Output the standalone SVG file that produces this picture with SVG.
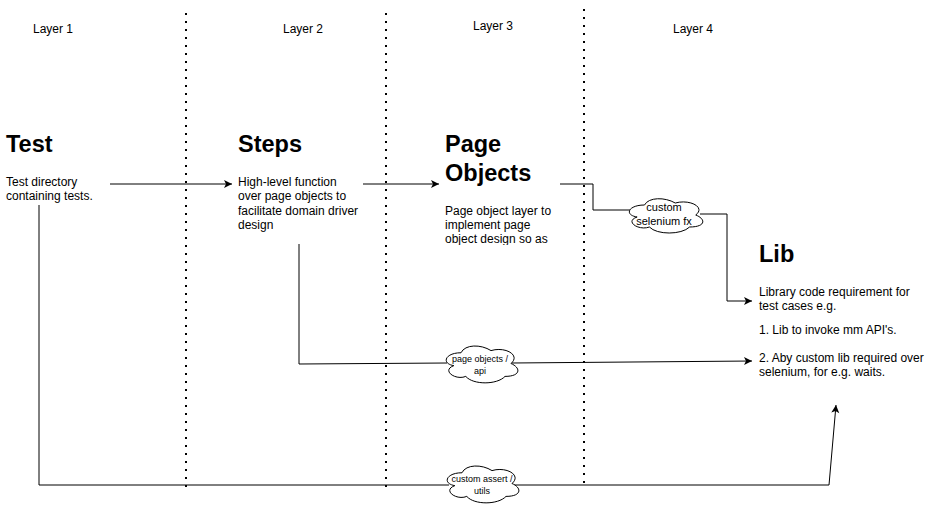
<svg xmlns="http://www.w3.org/2000/svg" xmlns:xlink="http://www.w3.org/1999/xlink" width="934" height="505" viewBox="0 0 934 505">
<style>
  text { font-family: "Liberation Sans", Arial, sans-serif; fill: #000; }
  .layer { font-size: 12px; }
  .title { font-size: 23.5px; font-weight: bold; }
  .body { font-size: 12px; }
  .c10 { font-size: 11px; }
  .c9 { font-size: 9px; }
  .div { stroke: #000; stroke-width: 2; stroke-dasharray: 2 6; fill: none; }
  .edge { stroke: #000; stroke-width: 1; fill: none; }
  .cloud { fill: #fff; stroke: #000; stroke-width: 1; }
</style>
<defs>
  <marker id="arr" viewBox="0 0 10 10" refX="9" refY="5" markerWidth="10" markerHeight="10" markerUnits="userSpaceOnUse" orient="auto">
    <path d="M1,1 L9,5 L1,9 L3,5 Z" fill="#000"/>
  </marker>
  <path id="cloudShape" vector-effect="non-scaling-stroke" d="M25,25 C5,25 0,50 16,55 C0,66 18,90 31,80 C40,100 70,100 80,80 C100,80 100,60 87.5,50 C100,30 80,10 62.5,20 C50,5 30,5 25,25 Z"/>
  <clipPath id="poClip"><rect x="440" y="200" width="130" height="45"/></clipPath>
</defs>
<rect width="934" height="505" fill="#fff"/>

<g id="dividers">
  <line class="div" x1="186" y1="13" x2="186" y2="488"/>
  <line class="div" x1="386" y1="13" x2="386" y2="488"/>
  <line class="div" x1="584" y1="9" x2="584" y2="488"/>
</g>

<g id="layer-labels">
  <text class="layer" x="33" y="33">Layer 1</text>
  <text class="layer" x="283" y="33">Layer 2</text>
  <text class="layer" x="473" y="30">Layer 3</text>
  <text class="layer" x="673" y="33">Layer 4</text>
</g>

<g id="connectors">
  <line class="edge" x1="110" y1="184" x2="232" y2="184" marker-end="url(#arr)"/>
  <line class="edge" x1="363" y1="184" x2="439" y2="184" marker-end="url(#arr)"/>
  <polyline class="edge" points="560,184 593,184 593,210 630,210"/>
  <polyline class="edge" points="700,214 727,214 727,301 752,301" marker-end="url(#arr)"/>
  <polyline class="edge" points="299,244 299,364 447,363"/>
  <line class="edge" x1="512" y1="363" x2="752" y2="361" marker-end="url(#arr)"/>
  <polyline class="edge" points="39,205 39,485 449,485"/>
  <polyline class="edge" points="514,485 829,485 836,405" marker-end="url(#arr)"/>
</g>

<g id="test">
  <text class="title" x="6" y="152">Test</text>
  <text class="body" x="6" y="186">Test directory</text>
  <text class="body" x="6" y="200">containing tests.</text>
</g>

<g id="steps">
  <text class="title" x="238" y="152">Steps</text>
  <text class="body" x="238" y="186">High-level function</text>
  <text class="body" x="238" y="200">over page objects to</text>
  <text class="body" x="238" y="215">facilitate domain driver</text>
  <text class="body" x="238" y="229">design</text>
</g>

<g id="page-objects">
  <text class="title" x="445" y="152">Page</text>
  <text class="title" x="445" y="181">Objects</text>
  <g clip-path="url(#poClip)">
    <text class="body" x="445" y="215">Page object layer to</text>
    <text class="body" x="445" y="229">implement page</text>
    <text class="body" x="445" y="243">object design so as</text>
  </g>
</g>

<g id="lib">
  <text class="title" x="759" y="262">Lib</text>
  <text class="body" x="759" y="296">Library code requirement for</text>
  <text class="body" x="759" y="310">test cases e.g.</text>
  <text class="body" x="759" y="334">1. Lib to invoke mm API's.</text>
  <text class="body" x="759" y="362">2. Aby custom lib required over</text>
  <text class="body" x="759" y="376">selenium, for e.g. waits.</text>
</g>

<g id="cloud-selenium">
  <use xlink:href="#cloudShape" class="cloud" transform="translate(624,195) scale(0.82,0.40)"/>
  <text class="c10" x="664" y="211" text-anchor="middle">custom</text>
  <text class="c10" x="664" y="225" text-anchor="middle">selenium fx</text>
</g>

<g id="cloud-pageobjects">
  <use xlink:href="#cloudShape" class="cloud" transform="translate(441,342) scale(0.80,0.43)"/>
  <text class="c9" x="480" y="362" text-anchor="middle">page objects /</text>
  <text class="c9" x="480" y="374" text-anchor="middle">api</text>
</g>

<g id="cloud-assert">
  <use xlink:href="#cloudShape" class="cloud" transform="translate(442,462) scale(0.80,0.43)"/>
  <text class="c9" x="482" y="482" text-anchor="middle">custom assert /</text>
  <text class="c9" x="482" y="494" text-anchor="middle">utils</text>
</g>
</svg>
